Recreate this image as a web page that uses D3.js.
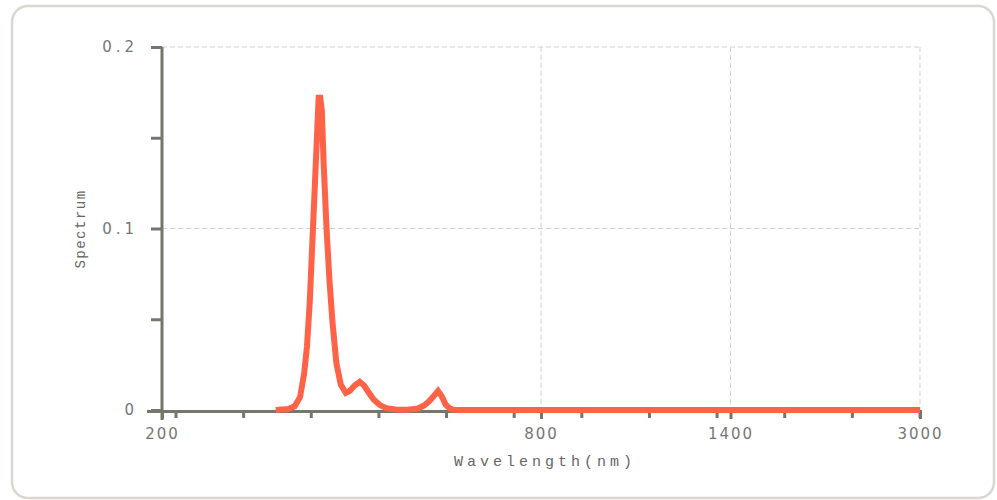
<!DOCTYPE html>
<html>
<head>
<meta charset="utf-8">
<script src="https://cdn.jsdelivr.net/npm/d3@7"></script>
<style>
  html, body { margin: 0; padding: 0; background: #ffffff; }
  svg { display: block; }
</style>
</head>
<body>
<svg id="chart" width="997" height="500"></svg>
<script>
// Emission spectrum (wavelength in nm, relative spectral power)
const wavelengths = [380, 400, 410, 418.5, 425, 429.5, 434, 439, 444, 448, 450.5, 453, 456, 460.5, 465, 470, 476, 483, 491, 497, 505, 513, 520, 527, 535, 545, 555, 570, 590, 605, 615, 622, 630, 637, 643, 649, 655, 662, 700, 800, 1400, 3000];
const spectrum    = [0, 0.0005, 0.002, 0.007, 0.02, 0.035, 0.06, 0.10, 0.14, 0.172, 0.172, 0.165, 0.135, 0.10, 0.072, 0.048, 0.026, 0.014, 0.0095, 0.0105, 0.0135, 0.0155, 0.0135, 0.0098, 0.0058, 0.0027, 0.001, 0.0003, 0.0002, 0.0008, 0.0025, 0.0045, 0.0075, 0.0105, 0.0075, 0.003, 0.001, 0, 0, 0, 0, 0];

// Axis ticks
const xTickValues = [200, 800, 1400, 3000];
const xTickLabels = ["200", "800", "1400", "3000"];
const xBreaks     = [200, 800, 1400, 3000];   // piecewise axis segments
const yTickValues = [0, 0.05, 0.1, 0.15, 0.2];
const yTickLabels = ["0", "", "0.1", "", "0.2"];
const yGridValues = [0.1, 0.2];
const xGridValues = [800, 1400, 3000];
const minorXTickCount = 12;

const svg = d3.select("#chart");
const margin = { left: 162, top: 47, right: 77, bottom: 90 };
const W = 997 - margin.left - margin.right;
const H = 500 - margin.top - margin.bottom;

const axisColor = "#77766c";
const labelColor = "#767676";
const gridColor = "#d2d2d2";

// Outer rounded frame
svg.append("rect")
  .attr("x", 12).attr("y", 6)
  .attr("width", 982).attr("height", 492)
  .attr("rx", 16).attr("ry", 16)
  .attr("fill", "#ffffff")
  .attr("stroke", "#d9d7cf").attr("stroke-width", 2.5);

const g = svg.append("g").attr("transform", `translate(${margin.left},${margin.top})`);

// Segmented wavelength scale: 200-800 fills half the axis, 800-1400 and 1400-3000 a quarter each
const x = d3.scaleLinear()
  .domain(xBreaks)
  .range([0, W * 0.5, W * 0.75, W]);
const y = d3.scaleLinear().domain([0, 0.2]).range([H, 0]);

// Dashed grid
g.selectAll(".hgrid").data(yGridValues).enter().append("line")
  .attr("x1", 0).attr("x2", x(3000))
  .attr("y1", d => y(d)).attr("y2", d => y(d))
  .attr("stroke", gridColor).attr("stroke-width", 1)
  .attr("stroke-dasharray", "5,3");
g.selectAll(".vgrid").data(xGridValues).enter().append("line")
  .attr("x1", d => x(d)).attr("x2", d => x(d))
  .attr("y1", y(0.2)).attr("y2", H)
  .attr("stroke", gridColor).attr("stroke-width", 1)
  .attr("stroke-dasharray", "5,3");

// Y axis
const yAxis = g.append("g").call(
  d3.axisLeft(y).tickValues(yTickValues).tickSize(11).tickPadding(13)
    .tickFormat((d, i) => yTickLabels[i])
);
yAxis.select(".domain").remove();
yAxis.selectAll(".tick line").attr("stroke", axisColor).attr("stroke-width", 3);
yAxis.selectAll(".tick text")
  .attr("fill", labelColor)
  .style("font-family", "'DejaVu Sans', sans-serif")
  .style("font-size", "15px")
  .style("letter-spacing", "4px")
  .attr("dy", "0.32em");
g.append("line")
  .attr("x1", 0).attr("x2", 0)
  .attr("y1", 0).attr("y2", H + 10)
  .attr("stroke", axisColor).attr("stroke-width", 3);

// X axis
const xAxis = g.append("g").attr("transform", `translate(0,${H})`).call(
  d3.axisBottom(x).tickValues(xTickValues).tickSize(9).tickPadding(9)
    .tickFormat((d, i) => xTickLabels[i])
);
xAxis.select(".domain").remove();
xAxis.selectAll(".tick line").attr("stroke", axisColor).attr("stroke-width", 3);
xAxis.selectAll(".tick text")
  .attr("fill", labelColor)
  .style("font-family", "'DejaVu Sans', sans-serif")
  .style("font-size", "15px")
  .style("letter-spacing", "2px");
g.append("line")
  .attr("x1", -15).attr("x2", W + 1)
  .attr("y1", H + 1.5).attr("y2", H + 1.5)
  .attr("stroke", axisColor).attr("stroke-width", 3);

// Evenly spaced minor ticks along the wavelength axis
const minorPos = d3.scaleLinear().domain([0, minorXTickCount - 1]).range([14, W]);
g.selectAll(".minor-x").data(d3.range(minorXTickCount)).enter().append("line")
  .attr("x1", d => minorPos(d)).attr("x2", d => minorPos(d))
  .attr("y1", H).attr("y2", H + 8)
  .attr("stroke", axisColor).attr("stroke-width", 3);

// Spectrum curve
const pts = wavelengths.map((w, i) => [w, spectrum[i]]);
g.append("path")
  .datum(pts)
  .attr("d", d3.line().x(d => x(d[0])).y(d => y(d[1])))
  .attr("fill", "none")
  .attr("stroke", "#ff6347")
  .attr("stroke-width", 6)
  .attr("stroke-linejoin", "miter")
  .attr("stroke-miterlimit", 3);

// Axis titles
svg.append("text")
  .attr("x", 545).attr("y", 466)
  .attr("text-anchor", "middle")
  .attr("fill", "#666666")
  .style("font-family", "'Liberation Mono', monospace")
  .style("font-size", "15px")
  .style("letter-spacing", "4px")
  .text("Wavelength(nm)");

svg.append("text")
  .attr("transform", "translate(85,229) rotate(-90)")
  .attr("text-anchor", "middle")
  .attr("fill", "#666666")
  .style("font-family", "'Liberation Mono', monospace")
  .style("font-size", "14px")
  .style("letter-spacing", "1.5px")
  .text("Spectrum");
</script>
</body>
</html>
